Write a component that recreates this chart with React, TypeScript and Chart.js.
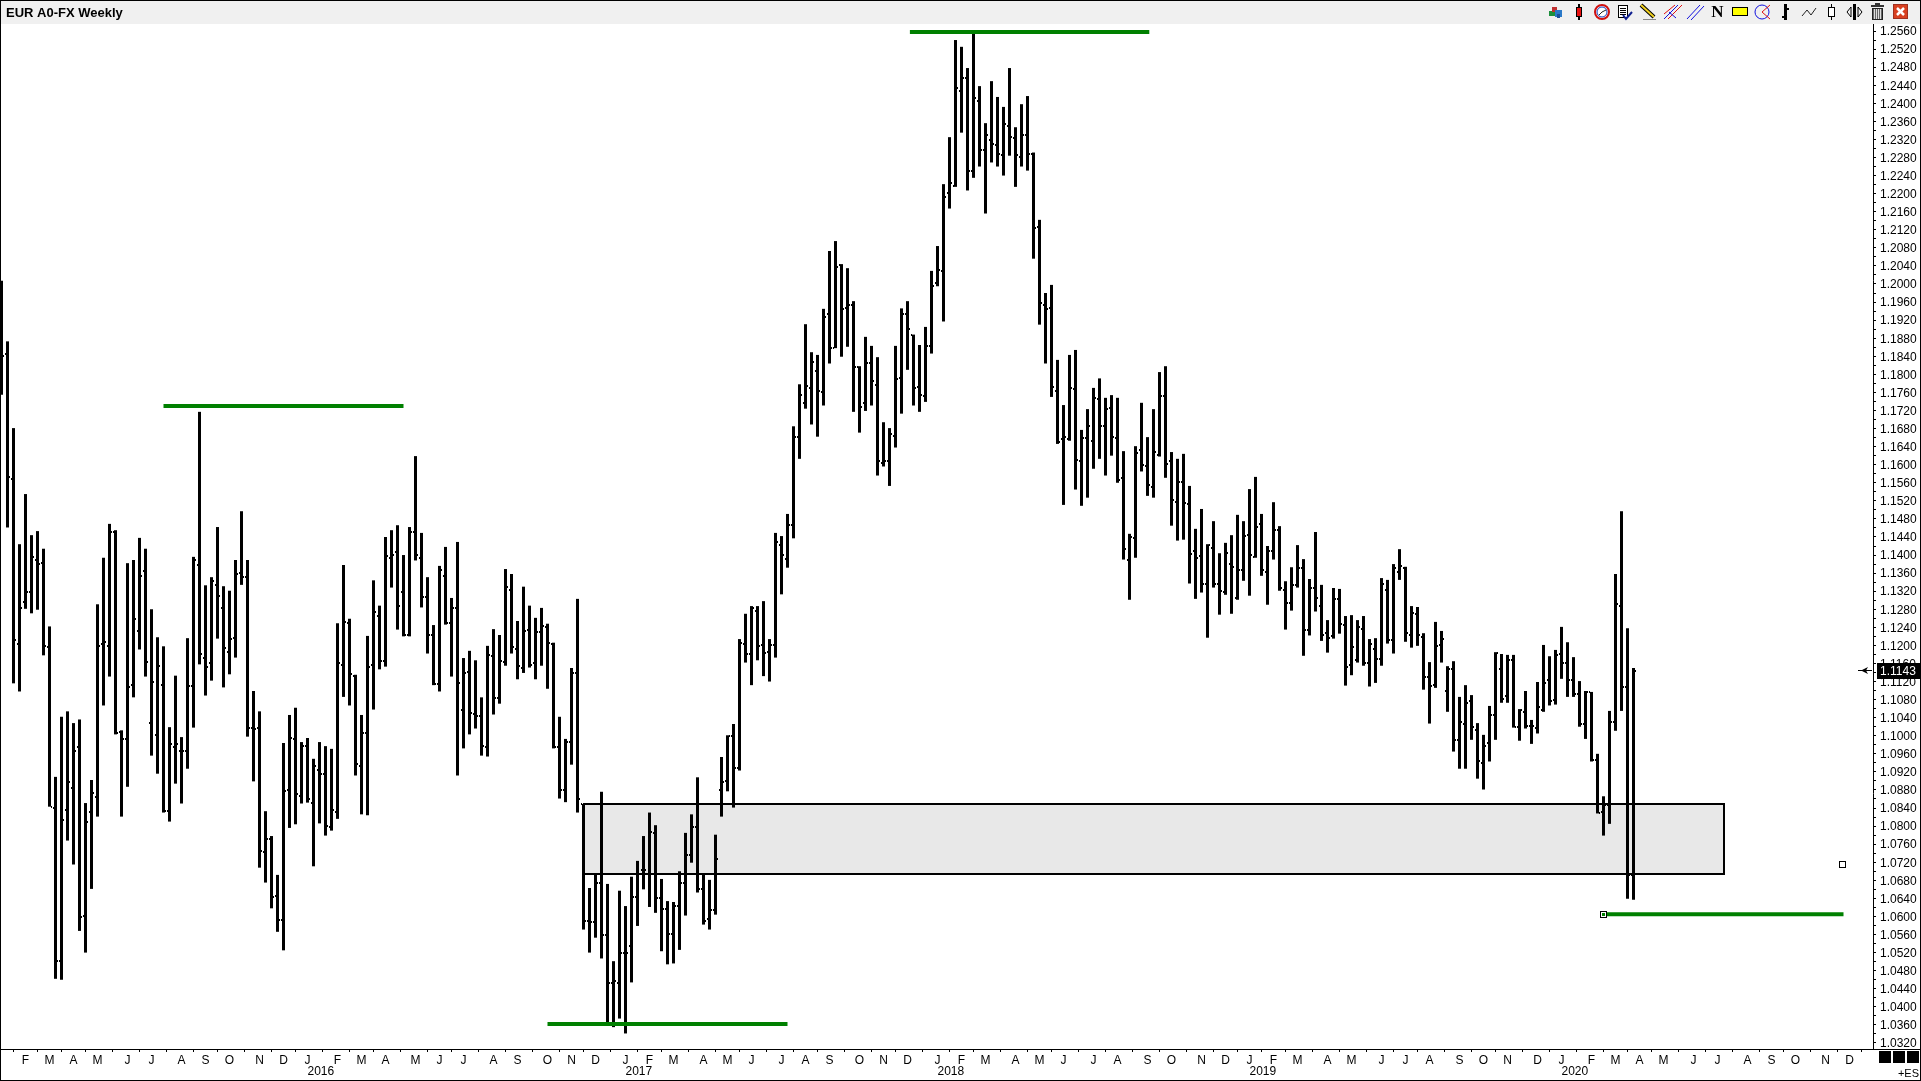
import React, { useEffect, useRef } from "react";
import { Chart, registerables } from "chart.js";

Chart.register(...registerables);

const highs = [
  1.2007,1.1873,1.1681,1.1424,1.1535,1.1444,1.1453,1.1414,1.1242,1.0909,
  1.1042,1.1054,1.1028,1.1036,1.0851,1.0902,1.1291,1.1394,1.1469,1.1455,
  1.1012,1.1382,1.1389,1.1438,1.1414,1.1280,1.1218,1.1198,1.1019,1.1133,
  1.0997,1.1216,1.1396,1.1717,1.1333,1.1351,1.1462,1.1331,1.1321,1.1389,
  1.1497,1.1389,1.1099,1.1054,1.0833,1.0778,1.0692,1.0984,1.1046,1.1062,
  1.0986,1.0995,1.0949,1.0986,1.0977,1.0971,1.1249,1.1378,1.1259,1.1135,
  1.1046,1.1221,1.1344,1.1288,1.1440,1.1455,1.1466,1.1400,1.1462,1.1619,
  1.1449,1.1351,1.1245,1.1376,1.1418,1.1305,1.1429,1.1172,1.1188,1.1167,
  1.1085,1.1199,1.1236,1.1223,1.1369,1.1358,1.1254,1.1330,1.1288,1.1261,
  1.1283,1.1248,1.1206,1.1042,1.0993,1.1150,1.1303,1.0849,1.0663,1.0693,
  1.0876,1.0672,1.0501,1.0657,1.0623,1.0688,1.0723,1.0778,1.0830,1.0802,
  1.0683,1.0634,1.0632,1.0700,1.0785,1.0826,1.0908,1.0693,1.0681,1.0781,
  1.0953,1.1001,1.1026,1.1214,1.1270,1.1287,1.1287,1.1298,1.1214,1.1449,
  1.1442,1.1491,1.1685,1.1778,1.1911,1.1849,1.1843,1.1945,1.2073,1.2095,
  1.2044,1.2035,1.1962,1.1818,1.1883,1.1863,1.1838,1.1694,1.1681,1.1863,
  1.1946,1.1962,1.1888,1.1865,1.1905,1.2029,1.2084,1.2221,1.2325,1.2540,
  1.2525,1.2478,1.2558,1.2438,1.2356,1.2449,1.2414,1.2392,1.2478,1.2347,
  1.2398,1.2416,1.2291,1.2142,1.1980,1.1998,1.1832,1.1732,1.1843,1.1854,
  1.1677,1.1723,1.1770,1.1791,1.1748,1.1754,1.1748,1.1630,1.1447,1.1641,
  1.1737,1.1661,1.1723,1.1805,1.1818,1.1628,1.1613,1.1624,1.1553,1.1458,
  1.1502,1.1424,1.1475,1.1404,1.1427,1.1444,1.1489,1.1475,1.1546,1.1573,
  1.1491,1.1420,1.1517,1.1464,1.1342,1.1373,1.1422,1.1391,1.1347,1.1451,
  1.1334,1.1256,1.1327,1.1325,1.1265,1.1267,1.1256,1.1265,1.1214,1.1216,
  1.1349,1.1345,1.1380,1.1413,1.1374,1.1287,1.1285,1.1227,1.1163,1.1252,
  1.1232,1.1154,1.1165,1.1086,1.1112,1.1090,1.1028,1.1002,1.1066,1.1185,
  1.1181,1.1179,1.1179,1.1059,1.1099,1.1035,1.1119,1.1201,1.1176,1.1190,
  1.1241,1.1207,1.1174,1.1121,1.1099,1.1097,1.0960,1.0866,1.1055,1.1358,
  1.1497,1.1238,1.1150,
];

const lows = [
  1.1755,1.1461,1.1116,1.1098,1.1281,1.1271,1.1279,1.1178,1.0843,1.0462,
  1.0460,1.0768,1.0715,1.0568,1.0520,1.0661,1.0821,1.1067,1.1131,1.1003,
  1.0821,1.0887,1.1085,1.1191,1.1131,1.0956,1.0916,1.0830,1.0810,1.0894,
  1.0850,1.0927,1.1018,1.1158,1.1089,1.1122,1.1215,1.1107,1.1136,1.1173,
  1.1334,1.0998,1.0899,1.0708,1.0675,1.0618,1.0566,1.0525,1.0796,1.0804,
  1.0850,1.0852,1.0711,1.0806,1.0779,1.0790,1.0816,1.1086,1.1067,1.0912,
  1.0826,1.0824,1.1058,1.1147,1.1153,1.1328,1.1235,1.1220,1.1220,1.1388,
  1.1284,1.1182,1.1112,1.1098,1.1246,1.1131,1.0912,1.0972,1.1003,1.1016,
  1.0956,1.0954,1.1047,1.1071,1.1155,1.1182,1.1125,1.1139,1.1151,1.1125,
  1.1155,1.1104,1.0972,1.0861,1.0853,1.0936,1.0830,1.0571,1.0520,1.0553,
  1.0507,1.0360,1.0355,1.0374,1.0341,1.0454,1.0579,1.0660,1.0621,1.0608,
  1.0523,1.0494,1.0496,1.0526,1.0602,1.0719,1.0653,1.0582,1.0571,1.0604,
  1.0821,1.0877,1.0841,1.0923,1.1162,1.1112,1.1167,1.1132,1.1120,1.1173,
  1.1313,1.1372,1.1437,1.1613,1.1724,1.1689,1.1662,1.1731,1.1824,1.1858,
  1.1839,1.1861,1.1717,1.1671,1.1719,1.1731,1.1576,1.1596,1.1553,1.1638,
  1.1713,1.1810,1.1731,1.1717,1.1739,1.1846,1.1995,1.1917,1.2167,1.2215,
  1.2335,1.2207,1.2235,1.2260,1.2156,1.2269,1.2260,1.2240,1.2284,1.2215,
  1.2260,1.2251,1.2056,1.1910,1.1824,1.1750,1.1646,1.1511,1.1653,1.1545,
  1.1509,1.1527,1.1591,1.1613,1.1576,1.1620,1.1560,1.1390,1.1301,1.1394,
  1.1585,1.1531,1.1527,1.1618,1.1571,1.1465,1.1432,1.1434,1.1337,1.1303,
  1.1317,1.1217,1.1328,1.1268,1.1312,1.1270,1.1301,1.1343,1.1310,1.1394,
  1.1354,1.1290,1.1390,1.1321,1.1235,1.1277,1.1328,1.1177,1.1222,1.1275,
  1.1210,1.1184,1.1215,1.1226,1.1111,1.1134,1.1162,1.1155,1.1109,1.1117,
  1.1155,1.1204,1.1182,1.1345,1.1208,1.1195,1.1199,1.1102,1.1027,1.1106,
  1.1162,1.1053,1.0965,1.0927,1.0927,1.0991,1.0905,1.0881,1.0943,1.0991,
  1.1073,1.1073,1.1018,1.0989,1.1016,1.0982,1.1005,1.1053,1.1067,1.1069,
  1.1126,1.1086,1.1086,1.1020,1.0993,1.0943,1.0828,1.0779,1.0805,1.1011,
  1.1055,1.0639,1.0637,
];

const opens = [
  1.1896,1.1844,1.1569,1.1204,1.1296,1.1318,1.1388,1.1383,1.1196,1.0841,
  1.0502,1.0836,1.0885,1.0974,1.0601,1.0831,1.0864,1.1202,1.1199,1.1452,
  1.1008,1.0993,1.1113,1.1232,1.1364,1.1028,1.1002,1.1113,1.0833,1.0974,
  1.0966,1.0966,1.1110,1.1379,1.1173,1.1160,1.1334,1.1283,1.1186,1.1217,
  1.1361,1.1351,1.1017,1.1017,1.0742,1.0772,1.0645,1.0593,1.0881,1.0992,
  1.0867,1.0977,1.0852,1.0925,1.0916,1.0798,1.0832,1.1156,1.1249,1.1132,
  1.0933,1.1005,1.1156,1.1266,1.1166,1.1394,1.1406,1.1319,1.1222,1.1452,
  1.1394,1.1308,1.1222,1.1114,1.1354,1.1249,1.1282,1.1058,1.1142,1.1049,
  1.1043,1.0975,1.1177,1.1084,1.1163,1.1322,1.1193,1.1151,1.1233,1.1161,
  1.1229,1.1240,1.1203,1.0975,1.0881,1.0987,1.1138,1.0849,1.0591,1.0588,
  1.0674,1.0560,1.0453,1.0453,1.0520,1.0534,1.0642,1.0702,1.0695,1.0784,
  1.0641,1.0616,1.0562,1.0623,1.0674,1.0737,1.0798,1.0661,1.0595,1.0614,
  1.0881,1.0900,1.1000,1.0928,1.1203,1.1182,1.1277,1.1200,1.1186,1.1201,
  1.1422,1.1391,1.1466,1.1662,1.1737,1.1769,1.1808,1.1762,1.1934,1.1858,
  1.2042,1.1946,1.1953,1.1817,1.1736,1.1824,1.1776,1.1603,1.1609,1.1663,
  1.1791,1.1933,1.1888,1.1773,1.1752,1.1863,1.2003,1.2029,1.2201,1.2218,
  1.2428,1.2457,1.2251,1.2406,1.2297,1.2319,1.2308,1.2285,1.2350,1.2324,
  1.2282,1.2330,1.2288,1.2127,1.1953,1.1946,1.1764,1.1657,1.1656,1.1767,
  1.1609,1.1658,1.1653,1.1745,1.1686,1.1725,1.1658,1.1570,1.1389,1.1437,
  1.1633,1.1597,1.1551,1.1621,1.1751,1.1609,1.1518,1.1562,1.1514,1.1410,
  1.1398,1.1335,1.1415,1.1337,1.1319,1.1380,1.1304,1.1367,1.1444,1.1396,
  1.1469,1.1363,1.1410,1.1455,1.1323,1.1293,1.1334,1.1371,1.1235,1.1326,
  1.1288,1.1227,1.1221,1.1302,1.1245,1.1157,1.1168,1.1236,1.1162,1.1193,
  1.1170,1.1323,1.1213,1.1363,1.1372,1.1224,1.1269,1.1219,1.1129,1.1112,
  1.1201,1.1098,1.1147,1.0991,1.1026,1.1078,1.1013,1.0939,1.0983,1.1046,
  1.1148,1.1088,1.1168,1.1020,1.1053,1.1022,1.1018,1.1058,1.1123,1.1079,
  1.1181,1.1162,1.1123,1.1092,1.1027,1.1096,1.0946,1.0832,1.0847,1.1030,
  1.1287,1.1107,1.0692,
];

const closes = [
  1.1840,1.1572,1.1212,1.1282,1.1318,1.1395,1.1381,1.1198,1.0843,1.0502,
  1.0814,1.0897,1.0966,1.0599,1.0808,1.0873,1.1199,1.1207,1.1452,1.1005,
  1.0993,1.1108,1.1259,1.1353,1.1163,1.1118,1.1155,1.0833,1.0982,1.0982,
  1.0966,1.1110,1.1388,1.1181,1.1152,1.1343,1.1310,1.1194,1.1215,1.1357,
  1.1351,1.1017,1.1014,1.0744,1.0772,1.0643,1.0593,1.0877,1.0995,1.0870,
  1.0977,1.0859,1.0933,1.0916,1.0800,1.0835,1.1161,1.1251,1.1136,1.0937,
  1.1005,1.1153,1.1273,1.1166,1.1397,1.1400,1.1287,1.1222,1.1452,1.1401,
  1.1308,1.1222,1.1114,1.1366,1.1249,1.1282,1.1117,1.1138,1.1051,1.1043,
  1.0977,1.1178,1.1084,1.1166,1.1329,1.1196,1.1154,1.1231,1.1156,1.1229,
  1.1243,1.1206,1.0975,1.0881,1.0987,1.1138,1.0860,1.0591,1.0588,1.0674,
  1.0560,1.0453,1.0457,1.0520,1.0520,1.0644,1.0695,1.0702,1.0787,1.0641,
  1.0616,1.0562,1.0623,1.0674,1.0737,1.0798,1.0661,1.0590,1.0614,1.0728,
  1.0897,1.1000,1.0928,1.1205,1.1180,1.1282,1.1198,1.1184,1.1201,1.1429,
  1.1400,1.1466,1.1661,1.1754,1.1775,1.1828,1.1764,1.1928,1.1858,1.2038,
  1.1945,1.1953,1.1817,1.1728,1.1824,1.1785,1.1609,1.1609,1.1668,1.1789,
  1.1933,1.1900,1.1769,1.1754,1.1863,1.1996,1.2031,1.2193,1.2223,1.2433,
  1.2457,1.2251,1.2412,1.2297,1.2330,1.2309,1.2287,1.2354,1.2326,1.2285,
  1.2330,1.2288,1.2125,1.1959,1.1945,1.1773,1.1651,1.1662,1.1769,1.1610,
  1.1658,1.1685,1.1747,1.1686,1.1723,1.1662,1.1566,1.1413,1.1441,1.1625,
  1.1599,1.1555,1.1627,1.1751,1.1601,1.1522,1.1562,1.1516,1.1402,1.1393,
  1.1337,1.1422,1.1337,1.1321,1.1405,1.1374,1.1367,1.1442,1.1400,1.1463,
  1.1367,1.1410,1.1455,1.1326,1.1293,1.1334,1.1371,1.1235,1.1326,1.1304,
  1.1223,1.1216,1.1302,1.1247,1.1153,1.1197,1.1241,1.1162,1.1204,1.1170,
  1.1336,1.1213,1.1372,1.1376,1.1227,1.1272,1.1223,1.1131,1.1111,1.1199,
  1.1214,1.1147,1.0991,1.1031,1.1073,1.1020,1.0943,1.0978,1.1046,1.1184,
  1.1081,1.1168,1.1020,1.1056,1.1022,1.1022,1.1064,1.1117,1.1076,1.1179,
  1.1162,1.1123,1.1092,1.1027,1.1097,1.0946,1.0830,1.0847,1.1030,1.1292,
  1.1107,1.0692,1.1143,
];

const monthBars = [
  4,8,12,16,21,25,30,34,38,43,47,51,56,60,64,69,73,77,82,86,91,95,99,104,108,112,117,121,125,130,
  134,138,143,147,151,156,160,164,169,173,177,182,186,191,195,200,204,208,212,216,221,225,230,234,
  238,243,247,251,256,260,265,269,273,277,282,286,291,295,299,304,308,
];
const monthLetters = "FMAMJJASONDJ";
const years = ["2016", "2017", "2018", "2019", "2020"];
const yearBars = [51, 104, 156, 208, 260];

const supportLevels = [
  { price: 1.1730, from: 27, to: 67 },
  { price: 1.2558, from: 151.4, to: 191.3 },
  { price: 1.0362, from: 91, to: 131 },
  { price: 1.0605, from: 267, to: 307 },
];
const zonePrices = [1.0850, 1.0694];
const zoneBars = [97, 287];
const handle1 = { bar: 267, price: 1.0605 };
const handle2 = { bar: 306.67, price: 1.0717 };
const lastPrice = 1.1143;
const title = "EUR A0-FX Weekly";
const tickStep = 0.002;
const tickFirst = 1.032;
const tickLast = 1.256;

function drawToolbar(ctx: CanvasRenderingContext2D) {
  const cy = 12;
  const line = (pts: number[][], color: string, w = 1) => {
    ctx.strokeStyle = color;
    ctx.lineWidth = w;
    ctx.beginPath();
    pts.forEach((p, i) => (i ? ctx.lineTo(p[0], p[1]) : ctx.moveTo(p[0], p[1])));
    ctx.stroke();
  };
  const box = (x: number, y: number, w: number, h: number, fill: string, stroke?: string) => {
    ctx.fillStyle = fill;
    ctx.fillRect(x, y, w, h);
    if (stroke) {
      ctx.strokeStyle = stroke;
      ctx.lineWidth = 1;
      ctx.strokeRect(x + 0.5, y + 0.5, w - 1, h - 1);
    }
  };
  const circle = (x: number, y: number, r: number, fill: string | null, stroke: string, w = 1) => {
    ctx.beginPath();
    ctx.arc(x, y, r, 0, Math.PI * 2);
    if (fill) {
      ctx.fillStyle = fill;
      ctx.fill();
    }
    ctx.strokeStyle = stroke;
    ctx.lineWidth = w;
    ctx.stroke();
  };
  box(1549, 11, 6, 5, "#1c8f3c");
  box(1552, 7, 5, 5, "#c03030");
  box(1555, 10, 7, 7, "#2a78c8");
  box(1557, 14, 3, 4, "#1a4f9a");
  box(1578, 4, 2, 16, "#000");
  box(1576, 7, 6, 10, "#e81010", "#000");
  circle(1602, 12, 7, "#fff", "#d01010", 2);
  circle(1602, 12, 5, null, "#1040c0", 1);
  line([[1602, 12], [1606, 10]], "#222");
  line([[1602, 12], [1599, 15]], "#222");
  box(1618, 5, 10, 13, "#fff", "#000");
  for (let y = 8; y < 16; y += 2) line([[1620, y + 0.5], [1626, y + 0.5]], "#000");
  line([[1623, 15], [1626, 19], [1632, 12]], "#102090", 2);
  line([[1641, 5], [1654, 17]], "#000", 4);
  line([[1641, 5], [1654, 17]], "#f0d020", 2);
  line([[1643, 19.5], [1656, 19.5]], "#888");
  line([[1664, 19], [1678, 5]], "#1010e0");
  line([[1668, 19], [1682, 5]], "#e01010");
  line([[1664, 14], [1675, 5]], "#e01010");
  line([[1669, 12], [1676, 18]], "#1010e0");
  line([[1687, 19], [1700, 5]], "#1010e0");
  line([[1691, 20], [1704, 6]], "#1010e0");
  ctx.fillStyle = "#000";
  ctx.font = "bold 17px 'Liberation Serif'";
  ctx.textAlign = "center";
  ctx.textBaseline = "middle";
  ctx.fillText("N", 1717.5, cy + 1);
  box(1732, 7, 16, 9, "#ffff00", "#000");
  circle(1762, 12, 7, null, "#1010e0");
  line([[1762, 12], [1770, 5]], "#e01010");
  line([[1762, 12], [1770, 19]], "#e01010");
  box(1784, 4, 3, 16, "#000");
  box(1782, 16, 2, 2, "#000");
  box(1787, 8, 2, 2, "#000");
  line([[1802, 16], [1807, 10], [1811, 15], [1816, 8]], "#222");
  line([[1831.5, 4], [1831.5, 20]], "#000");
  box(1828, 7, 7, 10, "#fff", "#000");
  box(1853, 4, 3, 16, "#000");
  line([[1851, 7], [1847, 12], [1851, 17], [1851, 7]], "#000");
  line([[1858, 7], [1862, 12], [1858, 17], [1858, 7]], "#000");
  box(1872, 8, 11, 12, "#666", "#222");
  for (let x = 1874; x < 1882; x += 2) line([[x + 0.5, 9], [x + 0.5, 19]], "#ddd");
  box(1871, 5, 13, 2, "#333");
  box(1875, 3, 5, 2, "#333");
  box(1893, 4, 15, 15, "#d84020", "#a03020");
  line([[1897, 8], [1904, 15]], "#fff", 2.5);
  line([[1904, 8], [1897, 15]], "#fff", 2.5);
}

const chromePlugin = {
  id: "chrome",
  beforeDraw(chart: any) {
    const { ctx, width, height } = chart;
    ctx.save();
    ctx.fillStyle = "#fff";
    ctx.fillRect(0, 0, width, height);
    ctx.restore();
  },
  beforeDatasetsDraw(chart: any) {
    const { ctx, scales } = chart;
    const x0 = scales.x.getPixelForValue(zoneBars[0]);
    const x1 = scales.x.getPixelForValue(zoneBars[1]);
    const y0 = scales.y.getPixelForValue(zonePrices[0]);
    const y1 = scales.y.getPixelForValue(zonePrices[1]);
    ctx.save();
    ctx.fillStyle = "#e8e8e8";
    ctx.fillRect(x0, y0, x1 - x0, y1 - y0);
    ctx.strokeStyle = "#000";
    ctx.lineWidth = 2;
    ctx.strokeRect(Math.round(x0), Math.round(y0), Math.round(x1 - x0), Math.round(y1 - y0));
    ctx.restore();
  },
  afterDraw(chart: any) {
    const { ctx, scales, width, height } = chart;
    ctx.save();
    ctx.fillStyle = "#f0f0f0";
    ctx.fillRect(0, 0, width, 24);
    ctx.fillStyle = "#000";
    ctx.font = "bold 13px 'Liberation Sans'";
    ctx.textAlign = "left";
    ctx.textBaseline = "middle";
    ctx.fillText(title, 6, 13);
    drawToolbar(ctx);
    ctx.fillStyle = "#000";
    ctx.font = "12px 'Liberation Sans'";
    ctx.textAlign = "left";
    ctx.textBaseline = "middle";
    years.forEach((y, i) => {
      ctx.fillText(y, scales.x.getPixelForValue(yearBars[i]), 1072);
    });
    const hx1 = Math.round(scales.x.getPixelForValue(handle1.bar));
    const hy1 = Math.round(scales.y.getPixelForValue(handle1.price));
    ctx.fillStyle = "#fff";
    ctx.fillRect(hx1 - 4, hy1 - 3, 7, 7);
    ctx.strokeStyle = "#000";
    ctx.lineWidth = 1;
    ctx.strokeRect(hx1 - 3.5, hy1 - 2.5, 6, 6);
    ctx.fillStyle = "#008000";
    ctx.fillRect(hx1 - 2, hy1 - 1, 3, 3);
    const hx2 = Math.round(scales.x.getPixelForValue(handle2.bar));
    const hy2 = Math.round(scales.y.getPixelForValue(handle2.price));
    ctx.fillStyle = "#fff";
    ctx.fillRect(hx2 - 3, hy2 - 3, 6, 6);
    ctx.strokeRect(hx2 - 2.5, hy2 - 2.5, 6, 6);
    const ly = Math.round(scales.y.getPixelForValue(lastPrice));
    ctx.fillStyle = "#000";
    ctx.fillRect(1877, ly - 8, 43, 16);
    ctx.fillStyle = "#fff";
    ctx.font = "12px 'Liberation Sans'";
    ctx.textAlign = "left";
    ctx.fillText(lastPrice.toFixed(4), 1880, ly + 1);
    ctx.fillStyle = "#000";
    ctx.fillRect(1858, ly - 1, 14, 1);
    ctx.beginPath();
    ctx.moveTo(1861, ly - 0.5);
    ctx.lineTo(1868, ly - 4);
    ctx.lineTo(1866, ly - 0.5);
    ctx.lineTo(1868, ly + 3);
    ctx.closePath();
    ctx.fill();
    ctx.fillRect(1879, 1051, 12, 12);
    ctx.fillRect(1893, 1051, 12, 12);
    ctx.fillRect(1907, 1051, 12, 12);
    ctx.textAlign = "right";
    ctx.font = "11px 'Liberation Sans'";
    ctx.fillText("+ES", 1919, 1074);
    ctx.fillRect(0, 0, width, 1);
    ctx.fillRect(0, 0, 1, height);
    ctx.fillRect(0, height - 1, width, 1);
    ctx.fillRect(width - 1, 0, 1, height);
    ctx.fillRect(0, 1049, width, 1);
    ctx.restore();
  },
};

export default function App() {
  const ref = useRef<HTMLCanvasElement | null>(null);
  useEffect(() => {
    document.body.style.margin = "0";
    document.body.style.background = "#fff";
    const dot = document.createElement("canvas");
    dot.width = 1;
    dot.height = 2;
    const dctx = dot.getContext("2d")!;
    dctx.fillStyle = "#000";
    dctx.fillRect(0, 0, 1, 2);

    const chart = new Chart(ref.current!, {
      type: "bar",
      data: {
        datasets: [
          {
            type: "bar",
            data: highs.map((h, i) => ({ x: i, y: [lows[i], h] })),
            backgroundColor: "#000",
            borderWidth: 0,
            barThickness: 3,
            inflateAmount: 0,
            grouped: false,
            order: 2,
          } as any,
          {
            type: "line",
            showLine: false,
            data: opens.map((o, i) => ({ x: i - 1 / 3, y: o })),
            pointStyle: dot,
            pointRadius: 1,
            order: 1,
          } as any,
          {
            type: "line",
            showLine: false,
            data: closes.map((c, i) => ({ x: i + 1 / 3, y: c })),
            pointStyle: dot,
            pointRadius: 1,
            order: 1,
          } as any,
          ...supportLevels.map(
            (l) =>
              ({
                type: "line",
                data: [
                  { x: l.from, y: l.price },
                  { x: l.to, y: l.price },
                ],
                borderColor: "#008000",
                borderWidth: 4,
                pointRadius: 0,
                order: 0,
              }) as any,
          ),
        ],
      },
      options: {
        animation: false,
        responsive: false,
        devicePixelRatio: 1,
        layout: { autoPadding: false, padding: { top: 24, left: 1, right: 0, bottom: 0 } },
        plugins: { legend: { display: false }, tooltip: { enabled: false }, title: { display: false } },
        events: [],
        scales: {
          x: {
            type: "linear",
            offset: false,
            min: -1 / 12,
            max: 311 + 11 / 12,
            border: { display: true, color: "#000", width: 1 },
            grid: { drawOnChartArea: false, drawTicks: true, tickLength: 3, tickColor: "#000" },
            ticks: {
              autoSkip: false,
              maxRotation: 0,
              minRotation: 0,
              padding: 1,
              color: "#000",
              font: { family: "'Liberation Sans'", size: 12 },
              callback: (_v: any, i: number) => monthLetters[i % 12],
            },
            afterBuildTicks: (s: any) => {
              s.ticks = monthBars.map((v) => ({ value: v }));
            },
            afterFit: (s: any) => {
              s.height = 32;
              s.paddingLeft = 0;
              s.paddingRight = 0;
            },
          },
          y: {
            type: "linear",
            position: "right",
            min: 1.03066,
            max: 1.25755,
            border: { display: true, color: "#000", width: 1 },
            grid: { drawOnChartArea: false, drawTicks: true, tickLength: 3, tickColor: "#000" },
            ticks: {
              autoSkip: false,
              padding: 4,
              labelOffset: 1,
              color: "#000",
              font: { family: "'Liberation Sans'", size: 12 },
              callback: (v: any, i: number) => (i % 2 === 0 ? Number(v).toFixed(4) : ""),
            },
            afterBuildTicks: (s: any) => {
              const n = Math.round((tickLast - tickFirst) / tickStep);
              const t = [];
              for (let k = 0; k <= n; k++) t.push({ value: tickFirst + k * tickStep });
              s.ticks = t;
            },
            afterFit: (s: any) => {
              s.width = 48;
              s.paddingTop = 0;
              s.paddingBottom = 0;
            },
          },
        },
      },
      plugins: [chromePlugin],
    } as any);
    return () => chart.destroy();
  }, []);
  return <canvas ref={ref} width={1921} height={1081} style={{ display: "block" }} />;
}
